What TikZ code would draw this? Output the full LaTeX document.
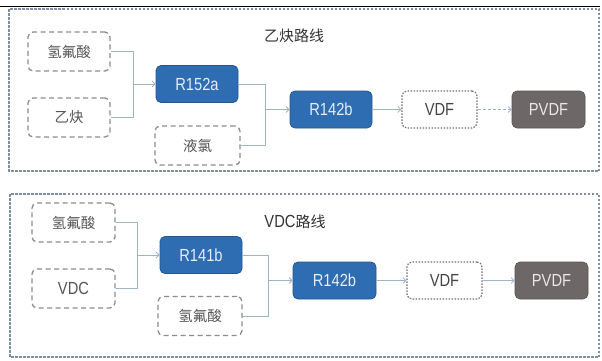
\documentclass[tikz,border=0pt]{standalone}
\usepackage{fontspec}
\usepackage{graphicx}
\setmainfont{Liberation Sans}
\newfontfamily\cjk{Noto Sans CJK SC}
\usetikzlibrary{arrows.meta}
\definecolor{bluefill}{HTML}{2F6DB3}
\definecolor{blueline}{HTML}{25578F}
\definecolor{graybox}{HTML}{6E6767}
\definecolor{dashgray}{HTML}{8C8C8C}
\definecolor{outerc}{HTML}{7F8FA3}
\definecolor{conn}{HTML}{9FB3C8}
\definecolor{txtgray}{HTML}{555555}
\newcommand{\cond}[1]{\scalebox{0.84}[1]{#1}}
\tikzset{
  bx/.style={minimum width=#1, inner sep=0pt, rounded corners=5pt, font=\fontsize{17.5}{18}\selectfont},
  cjkf/.style={font=\cjk\fontsize{14.5}{15}\selectfont},
  inbox/.style={bx=82pt, minimum height=39pt, draw=dashgray, line width=1.3pt, dash pattern=on 5pt off 3.5pt, text=txtgray},
  bluebox/.style={bx=82pt, minimum height=37pt, fill=bluefill, draw=blueline, line width=0.8pt, text=white!88!bluefill},
  vdfbox/.style={bx=75pt, minimum height=37pt, draw=dashgray!80!black, line width=1.2pt, dash pattern=on 1.5pt off 1.5pt, text=txtgray!80!black},
  pvdfbox/.style={bx=73pt, minimum height=37pt, fill=graybox, draw=graybox!80!black, line width=0.6pt, text=white!85!graybox},
  outerbox/.style={draw=outerc, line width=1.3pt, dash pattern=on 2.5pt off 1.5pt},
  cn/.style={draw=conn, line width=0.8pt},
  ar/.style={cn, -{Straight Barb[length=3pt,width=6pt]}},
  ttl/.style={font=\cjk\fontsize{15}{15}\selectfont, text=black!80, inner sep=0pt},
  ttlv/.style={font=\fontsize{17.5}{18}\selectfont, text=black!80, inner sep=0pt},
}
\begin{document}
\begin{tikzpicture}[x=1pt,y=-1pt]
\useasboundingbox (0,0) rectangle (602,360);
\fill[white] (0,0) rectangle (602,360);
\coordinate (tl) at (0,6.5);
\coordinate (tr) at (600,6.5);
\draw[line width=1.6pt,black] (tl) -- (tr);
% outer boxes
\draw[outerbox] (9,9) rectangle (599,171);
\draw[outerbox] (10,194) rectangle (599,357);
% ---------- top route ----------
\node[ttl] (t1) at (294,36) {乙炔路线};
\node[inbox, cjkf] (hf1) at (69,51.5) {氢氟酸};
\node[inbox, cjkf] (c2h2) at (69,117.5) {乙炔};
\node[bluebox] (r152) at (197,84) {\cond{R152a}};
\node[inbox, bx=85pt, cjkf] (cl2) at (197.5,145.5) {液氯};
\node[bluebox] (r142a) at (331,109.5) {\cond{R142b}};
\node[vdfbox] (vdf1) at (439.5,109.5) {\cond{VDF}};
\node[pvdfbox] (pvdf1) at (548.5,109.5) {\cond{PVDF}};
\coordinate (j1) at (133,84);
\coordinate (j2) at (265,109.5);
\draw[cn] (hf1.east) -| (j1);
\draw[cn] (c2h2.east) -| (j1);
\draw[ar] (j1) -- (r152.west);
\draw[cn] (r152.east) -| (j2);
\draw[cn] (cl2.east) -| (j2);
\draw[ar] (j2) -- (r142a.west);
\draw[ar] (r142a.east) -- (vdf1.west);
\draw[ar, dash pattern=on 3pt off 2pt] (vdf1.east) -- (pvdf1.west);
% ---------- bottom route ----------
\node[ttlv] (t2) at (295,222) {\cond{VDC}{\cjk\fontsize{15}{15}\selectfont 路线}};
\node[inbox, bx=83pt, cjkf] (hf2) at (73.5,222.5) {氢氟酸};
\node[inbox, bx=83pt] (vdc) at (73.5,288.5) {\cond{VDC}};
\node[bluebox] (r141) at (201,255) {\cond{R141b}};
\node[inbox, bx=84pt, cjkf] (hf3) at (200,316) {氢氟酸};
\node[bluebox, bx=83pt] (r142b) at (334.5,280.5) {\cond{R142b}};
\node[vdfbox] (vdf2) at (444.5,280.5) {\cond{VDF}};
\node[pvdfbox] (pvdf2) at (551.5,280.5) {\cond{PVDF}};
\coordinate (j3) at (137,255);
\coordinate (j4) at (268,280.5);
\draw[cn] (hf2.east) -| (j3);
\draw[cn] (vdc.east) -| (j3);
\draw[ar] (j3) -- (r141.west);
\draw[cn] (r141.east) -| (j4);
\draw[cn] (hf3.east) -| (j4);
\draw[ar] (j4) -- (r142b.west);
\draw[ar] (r142b.east) -- (vdf2.west);
\draw[ar] (vdf2.east) -- (pvdf2.west);
\end{tikzpicture}
\end{document}
